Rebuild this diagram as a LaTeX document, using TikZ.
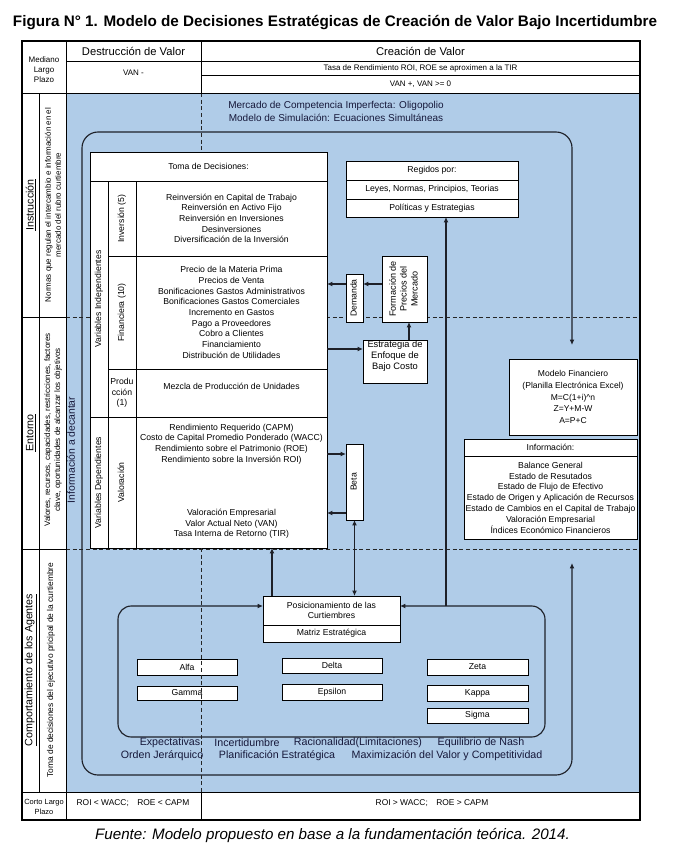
\documentclass[tikz,border=0pt]{standalone}
\usepackage{fontspec}
\setmainfont{Liberation Sans}
\usetikzlibrary{arrows.meta}
\definecolor{bgblue}{RGB}{176,204,232}
\definecolor{navy}{RGB}{22,24,58}
\definecolor{lncol}{RGB}{30,32,40}
\newcommand\fs[2]{\fontsize{#1}{#2}\selectfont}
\newcommand\vtext[1]{\rotatebox{90}{\begin{tabular}{@{}c@{}}#1\end{tabular}}}
\newcommand\mybox[7][]{\node[box,#1,minimum width={(#5-#3)*0.75pt},minimum height={(#6-#4)*0.75pt}] (#2) at ({(#3+#5)/2},{(#4+#6)/2}) {#7};}
\begin{document}
\begin{tikzpicture}[x=0.75pt,y=-0.75pt,
  box/.style={draw=black,fill=white,line width=0.6pt,inner sep=0pt,outer sep=0pt,align=center,font=\fs{6.5}{8}},
  txt/.style={inner sep=0pt,align=center,font=\fs{6.5}{8}},
  frm/.style={line width=0.6pt,draw=black},
  dsh/.style={line width=0.6pt,draw=black!85,dash pattern=on 3pt off 2pt},
  conn/.style={line width=0.85pt,draw=lncol,arrows={-Latex[length=4pt,width=3.6pt]}},
  loopl/.style={line width=0.85pt,draw=lncol,arrows={Latex[length=4pt,width=3.6pt]-Latex[length=4pt,width=3.6pt]}},
  big/.style={inner sep=0pt,align=center,text=navy,font=\fs{8}{10}}]
% canvas
\path[use as bounding box,fill=white] (0,0) rectangle (685,856);
\fill[bgblue] (66,93) rectangle (640,792);
% dashed guides
\draw[dsh] (66,317) -- (640,317);
\draw[dsh] (66,549) -- (640,549);
\draw[dsh] (201,93) -- (201,152);
% frame
\draw[frm,line width=0.8pt] (22,41) rectangle (640,820);
\draw[frm] (22,93) -- (640,93);
\draw[frm] (22,792) -- (640,792);
\draw[frm] (66,41) -- (66,820);
\draw[frm] (39,93) -- (39,792);
\draw[frm] (22,317) -- (66,317);
\draw[frm] (22,549) -- (66,549);
\draw[frm] (201,41) -- (201,93);
\draw[frm] (201,792) -- (201,820);
\draw[frm] (66,61) -- (640,61);
\draw[frm] (201,75) -- (640,75);
% title
\node[anchor=base west,inner sep=0pt,font=\fs{11}{13}] (title) at (12.7,26.7)
  {\resizebox{483pt}{!}{\bfseries Figura N° 1. Modelo de Decisiones Estratégicas de Creación de Valor Bajo Incertidumbre}};
% header texts
\node[txt,font=\fs{6}{7.6}] (med) at (44,69.5) {Mediano\\Largo\\Plazo};
\node[txt,font=\fs{8.4}{10}] (dv) at (133.5,51.5) {Destrucción de Valor};
\node[txt,font=\fs{8.4}{10}] (cv) at (420.5,51.5) {Creación de Valor};
\node[txt,font=\fs{6}{7}] (vanm) at (133.5,73) {VAN -};
\node[txt,font=\fs{6}{7}] (tasa) at (420.5,68) {Tasa de Rendimiento ROI, ROE se aproximen a la TIR};
\node[txt,font=\fs{6}{7}] (vanp) at (420.5,84) {VAN +, VAN >= 0};
\node[big,font=\fs{7.5}{9}] (merc) at (336,106) {Mercado de Competencia Imperfecta: Oligopolio};
\node[big,font=\fs{7.5}{9}] (modsim) at (336,118) {Modelo de Simulación: Ecuaciones Simultáneas};
% left columns
\node[txt,rotate=90,font=\fs{8}{10}] (instr) at (31,205) {\underline{Instrucción}};
\node[txt,rotate=90,font=\fs{8}{10}] (ent) at (31,433) {\underline{Entorno}};
\node[txt,rotate=90,font=\fs{8}{10}] (comp) at (31,670) {\underline{Comportamiento de los Agentes}};
\node[txt,rotate=90,font=\fs{6}{7.5}] (normas) at (53,205) {Normas que regulan el intercambio e información en el\\mercado del rubro curtiembre};
\node[txt,rotate=90,font=\fs{6}{7.5}] (valores) at (53,430) {Valores, recursos, capacidades, restricciones, factores\\clave, oportunidades de alcanzar los objetivos};
\node[txt,rotate=90,font=\fs{6.3}{7.5}] (tomadec) at (51,670) {Toma de decisiones del ejecutivo pricipal de la curtiembre};
\node[big,rotate=90,font=\fs{7.8}{9}] (infdec) at (71,450) {Información a decantar};
% loops
\coordinate (oTR) at (572,345);
\coordinate (oBR) at (572,563);
\draw[loopl,rounded corners=12pt] (oBR) -- (572,775) -- (82,775) -- (82,132) -- (572,132) -- (oTR);
% Toma de decisiones
\mybox{tomaH}{90}{152}{327}{181}{Toma de Decisiones:}
\mybox{vind}{90}{181}{108}{417}{\vtext{Variables Independientes}}
\mybox{invL}{108}{181}{136}{256}{\vtext{Inversión (5)}}
\mybox{invC}{136}{181}{327}{256}{Reinversión en Capital de Trabajo\\Reinversión en Activo Fijo\\Reinversión en Inversiones\\Desinversiones\\Diversificación de la Inversión}
\mybox{finL}{108}{256}{136}{369}{\vtext{Financiera (10)}}
\mybox{finC}{136}{256}{327}{369}{Precio de la Materia Prima\\Precios de Venta\\Bonificaciones Gastos Administrativos\\Bonificaciones Gastos Comerciales\\Incremento en Gastos\\Pago a Proveedores\\Cobro a Clientes\\Financiamiento\\Distribución de Utilidades}
\mybox{prodL}{108}{369}{136}{417}{Produ\\cción\\(1)}
\mybox{prodC}{136}{369}{327}{417}{}
\node[txt] (mezcla) at (231.5,386) {Mezcla de Producción de Unidades};
\mybox{vdep}{90}{417}{108}{548}{\vtext{Variables Dependientes}}
\mybox{valL}{108}{417}{136}{548}{\vtext{Valoración}}
\mybox{valC}{136}{417}{327}{548}{}
\node[txt] (val1) at (231.5,444) {Rendimiento Requerido (CAPM)\\Costo de Capital Promedio Ponderado (WACC)\\Rendimiento sobre el Patrimonio (ROE)\\Rendimiento sobre la Inversión ROI)};
\node[txt] (val2) at (231.5,524) {Valoración Empresarial\\Valor Actual Neto (VAN)\\Tasa Interna de Retorno (TIR)};
% Regidos
\mybox{rg1}{346}{161}{518}{180}{Regidos por:}
\mybox{rg2}{346}{180}{518}{199}{Leyes, Normas, Principios, Teorias}
\mybox{rg3}{346}{199}{518}{217}{Políticas y Estrategias}
% market boxes
\mybox{dem}{346}{274}{363}{322}{\vtext{Demanda}}
\mybox[font=\fs{6.8}{8.2}]{form}{382}{256}{427}{322}{\vtext{Formación de\\Precios del\\Mercado}}
\mybox{est}{363}{340}{427}{383}{}
\node[txt,font=\fs{7}{8.2}] (esttxt) at (395,356) {Estrategia de\\Enfoque de\\Bajo Costo};
\mybox{beta}{346}{444}{363}{520}{\vtext{Beta}}
% right boxes
\mybox[font=\fs{6.4}{8.8}]{mf}{509}{359}{637}{435}{Modelo Financiero\\(Planilla Electrónica Excel)\\M=C(1+i)\textasciicircum n\\Z=Y+M-W\\A=P+C}
\mybox{infH}{464}{439}{637}{456}{Información:}
\mybox[font=\fs{6.5}{8.1}]{infB}{464}{456}{637}{539}{Balance General\\Estado de Resutados\\Estado de Flujo de Efectivo\\Estado de Origen y Aplicación de Recursos\\Estado de Cambios en el Capital de Trabajo\\Valoración Empresarial\\Índices Económico Financieros}
% positioning
\mybox[font=\fs{6.5}{7.6}]{posT}{263}{596}{400}{625}{Posicionamiento de las\\Curtiembres}
\mybox{posB}{263}{625}{400}{642}{Matriz Estratégica}
\mybox{alfa}{137}{659}{237}{675}{Alfa}
\mybox{gamma}{137}{686}{237}{700}{Gamma}
\mybox{delta}{282}{658}{382}{673}{Delta}
\mybox{epsilon}{282}{684}{382}{700}{Epsilon}
\mybox{zeta}{427}{659}{528}{675}{Zeta}
\mybox{kappa}{427}{685}{528}{701}{Kappa}
\mybox{sigma}{427}{708}{528}{723}{Sigma}
% lower dashed line on top
\draw[dsh] (201,548) -- (201,792);
% inner loop
\coordinate (lp) at (0,606);
\coordinate (jn) at (446,606);
\draw[loopl,rounded corners=10pt] (posT.east |- lp) -- (545,606) -- (545,737) -- (118,737) -- (118,606) -- (posT.west |- lp);
\draw[conn] (jn) -- (jn |- rg3.south);
% connectors
\coordinate (x272) at (272,0);
\coordinate (x409) at (409,0);
\coordinate (y284) at (0,284);
\coordinate (y349) at (0,349);
\coordinate (y454) at (0,454);
\coordinate (y513) at (0,513);
\draw[conn] (posT.north -| x272) -- (valC.south -| x272);
\draw[loopl] (beta.south) -- (posT.north -| beta.south);
\draw[conn] (valC.east |- y454) -- (beta.west |- y454);
\draw[conn] (beta.west |- y513) -- (valC.east |- y513);
\draw[conn] (finC.east |- y349) -- (est.west |- y349);
\draw[conn] (est.north -| x409) -- (form.south -| x409);
\draw[conn] (form.west |- y284) -- (dem.east |- y284);
\draw[conn] (dem.west |- y284) -- (finC.east |- y284);
% concept labels
\node[big] (expect) at (170,743) {Expectativas};
\node[big] (incert) at (247,743) {Incertidumbre};
\node[big] (racional) at (358,743) {Racionalidad(Limitaciones)};
\node[big] (nash) at (481,743) {Equilibrio de Nash};
\node[big] (orden) at (162,756) {Orden Jerárquico};
\node[big] (planif) at (277,756) {Planificación Estratégica};
\node[big] (maxim) at (447,756) {Maximización del Valor y Competitividad};
% bottom row
\node[txt,font=\fs{5.6}{7.4}] (corto) at (44,807) {Corto Largo\\Plazo};
\node[txt,font=\fs{6.3}{7.5}] (roiL) at (133,803.5) {ROI < WACC;\quad ROE < CAPM};
\node[txt,font=\fs{6.3}{7.5}] (roiR) at (432,803.5) {ROI > WACC;\quad ROE > CAPM};
% footer
\node[anchor=base,inner sep=0pt,font=\fs{10}{12}] (fuente) at (332.5,839)
  {\resizebox{356pt}{!}{\itshape Fuente: Modelo propuesto en base a la fundamentación teórica. 2014.}};
\end{tikzpicture}
\end{document}
